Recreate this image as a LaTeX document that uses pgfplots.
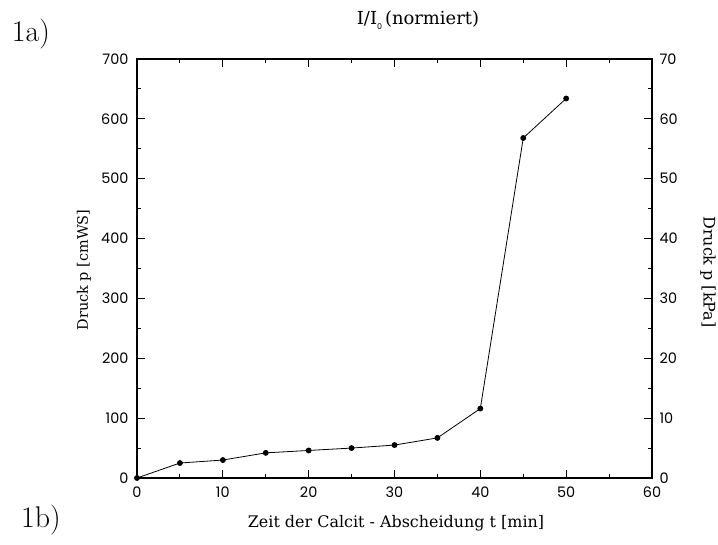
\documentclass[border=0pt]{standalone}
\usepackage{pgfplots}
\pgfplotsset{compat=1.18}
\usepackage{fontspec}
\setmainfont{DejaVu Serif}
\newfontfamily\ticksf{Poppins}
\newfontfamily\lmr{Latin Modern Roman}
\begin{document}
\begin{tikzpicture}[x=1bp,y=1bp]
\path[use as bounding box] (-137,-67) rectangle (581,478);
\pgfplotsset{
  druckstyle/.style={
    at={(0,0)}, anchor=south west,
    scale only axis, width=515bp, height=419bp,
    xmin=0, xmax=60,
    tick align=inside,
    major tick length=8bp, minor tick length=4bp,
    axis line style={line width=1.2bp},
    every tick/.style={line width=1bp, black},
    tick label style={font=\ticksf\fontsize{14.5}{16}\selectfont},
    /pgf/number format/assume math mode=true,
  }
}
% left scale: cmWS
\begin{axis}[druckstyle,
  ymin=0, ymax=700,
  xtick={0,10,...,60}, minor x tick num=1,
  ytick={0,100,...,700}, minor y tick num=1,
  ytick pos=left,
  xticklabel style={yshift=-5.5bp},
  yticklabel style={xshift=-5bp},
]
\addplot[black, line width=0.8bp, mark=*, mark size=2.5bp,
  mark options={fill=black}] coordinates {
  (0,0) (5,25) (10,30) (15,42) (20,46) (25,50) (30,55)
  (35,67) (40,116) (45,568) (50,634)
};
\end{axis}
% right scale: kPa
\begin{axis}[druckstyle,
  ymin=0, ymax=70,
  hide x axis,
  ytick={0,10,...,70}, minor y tick num=1,
  ytick pos=right, yticklabel pos=right,
  yticklabel style={xshift=4bp},
]
\end{axis}
\node[font=\fontsize{16}{18}\selectfont] at (259,-45) {Zeit der Calcit - Abscheidung t [min]};
\node[rotate=90, font=\fontsize{14.5}{16}\selectfont] at (-53,208) {Druck p [cmWS]};
\node[rotate=-90, font=\fontsize{16}{18}\selectfont] at (571,206) {Druck p [kPa]};
\node[font=\fontsize{18}{20}\selectfont] at (281,458) {I/I\raisebox{-0.5ex}{\ticksf\fontsize{8}{9}\selectfont 0}\,(normiert)};
\node[font=\lmr\fontsize{30}{32}\selectfont] at (-106,444) {1a)};
\node[font=\lmr\fontsize{30}{32}\selectfont] at (-96,-42) {1b)};
\end{tikzpicture}
\end{document}
